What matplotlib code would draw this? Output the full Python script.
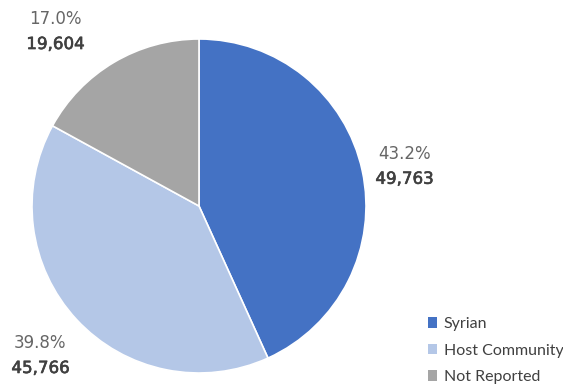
import matplotlib
matplotlib.use("Agg")
import matplotlib.pyplot as plt
import matplotlib.patheffects as pe

categories = ["Syrian", "Host Community", "Not Reported"]
values = [49763, 45766, 19604]
pct_labels = ["43.2%", "39.8%", "17.0%"]
num_labels = ["49,763", "45,766", "19,604"]
colors = ["#4472C4", "#B4C7E7", "#A5A5A5"]

fig = plt.figure(figsize=(5.63, 3.85), dpi=100)
ax = fig.add_axes([32/563, 12/385, 334/563, 334/385])
wedges, _ = ax.pie(values, colors=colors, startangle=90, counterclock=False,
                   wedgeprops=dict(edgecolor="white", linewidth=1.2))
ax.set_xlim(-1, 1)
ax.set_ylim(-1, 1)
ax.set_aspect("auto")

label_pos = [(1.23, 0.238), (-0.95, -0.895), (-0.86, 1.045)]
for (x, y), p, n in zip(label_pos, pct_labels, num_labels):
    ax.text(x, y + 0.075, p, ha="center", va="center", fontsize=12,
            family="DejaVu Sans", color="#666666", clip_on=False)
    ax.text(x, y - 0.075, n, ha="center", va="center", fontsize=12,
            family="DejaVu Sans", color="#404040", clip_on=False,
            path_effects=[pe.withStroke(linewidth=0.45, foreground="#404040")])

leg = fig.legend(wedges, categories, loc="lower right",
                 bbox_to_anchor=(1.026, -0.035), frameon=False,
                 prop={"family": "Lato", "size": 11.5},
                 handlelength=0.6, handleheight=0.6, handletextpad=0.4,
                 labelspacing=0.78)
for t in leg.get_texts():
    t.set_color("#404040")
for h in leg.legend_handles:
    h.set_edgecolor("none")

fig.savefig("out.png", dpi=100)
